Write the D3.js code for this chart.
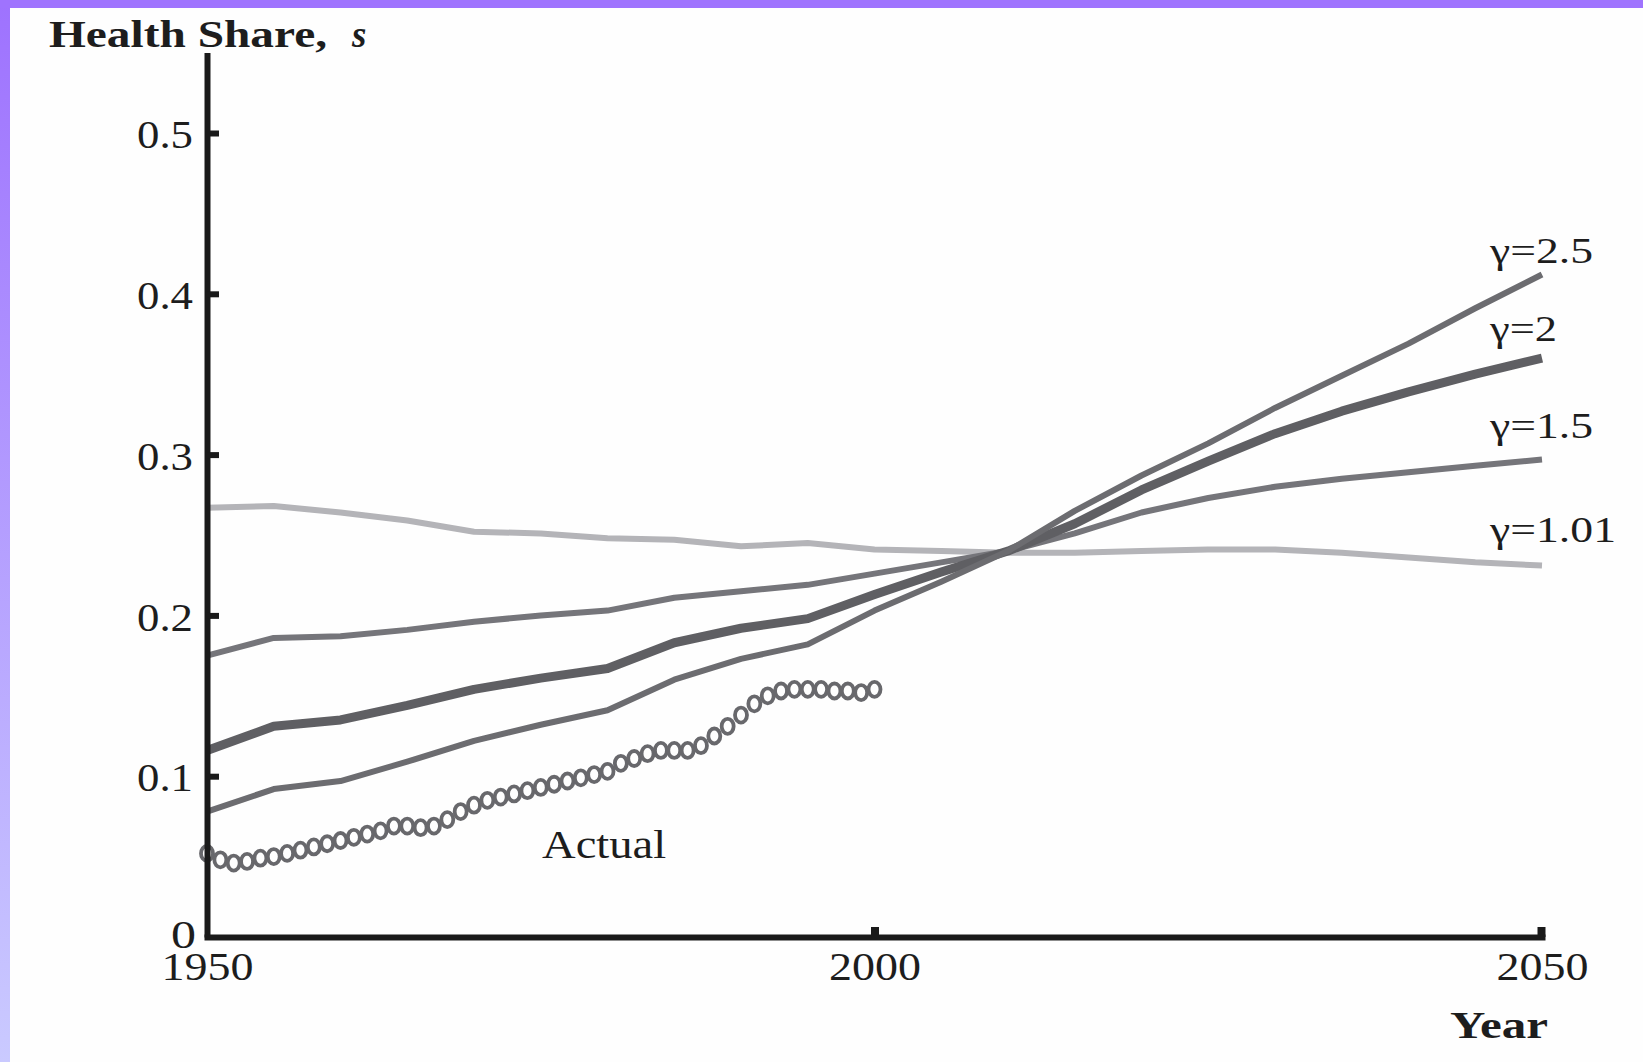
<!DOCTYPE html>
<html>
<head>
<meta charset="utf-8">
<script src="https://cdn.jsdelivr.net/npm/d3@7"></script>
<style>
  html, body { margin: 0; padding: 0; background: #ffffff; }
  svg { display: block; }
  text { font-family: "Liberation Serif", "Times New Roman", Times, serif; fill: #1d1d1d; }
</style>
</head>
<body>
<svg id="chart" width="1643" height="1062"></svg>
<script>
// Projection years (5-year steps) shared by all simulated paths
const projYears = [1950, 1955, 1960, 1965, 1970, 1975, 1980, 1985, 1990, 1995, 2000,
                   2005, 2010, 2015, 2020, 2025, 2030, 2035, 2040, 2045, 2050];

// Simulated health share for each curvature value gamma
const shareG101 = [0.267, 0.268, 0.264, 0.259, 0.252, 0.251, 0.248, 0.247, 0.243, 0.245, 0.241,
                   0.240, 0.239, 0.239, 0.240, 0.241, 0.241, 0.239, 0.236, 0.233, 0.231];
const shareG15  = [0.175, 0.186, 0.187, 0.191, 0.196, 0.200, 0.203, 0.211, 0.215, 0.219, 0.226,
                   0.233, 0.240, 0.251, 0.264, 0.273, 0.280, 0.285, 0.289, 0.293, 0.297];
const shareG2   = [0.116, 0.131, 0.135, 0.144, 0.154, 0.161, 0.167, 0.183, 0.192, 0.198, 0.213,
                   0.227, 0.240, 0.257, 0.278, 0.296, 0.313, 0.327, 0.339, 0.350, 0.360];
const shareG25  = [0.078, 0.092, 0.097, 0.109, 0.122, 0.132, 0.141, 0.160, 0.173, 0.182, 0.203,
                   0.221, 0.240, 0.265, 0.287, 0.307, 0.329, 0.349, 0.369, 0.391, 0.412];

// Observed health share, annual
const actualYears = d3.range(1950, 2001);
const actualShare = [0.052, 0.048, 0.046, 0.047, 0.049, 0.050, 0.052, 0.054, 0.056, 0.058,
                     0.060, 0.062, 0.064, 0.066, 0.069, 0.069, 0.068, 0.069, 0.073, 0.078,
                     0.082, 0.085, 0.087, 0.089, 0.091, 0.093, 0.095, 0.097, 0.099, 0.101,
                     0.103, 0.108, 0.111, 0.114, 0.116, 0.116, 0.116, 0.119, 0.125, 0.131,
                     0.138, 0.145, 0.150, 0.153, 0.154, 0.154, 0.154, 0.153, 0.153, 0.152,
                     0.154];

const seriesLabels = ["\u03b3=1.01", "\u03b3=1.5", "\u03b3=2", "\u03b3=2.5"];
const yTicks = [0, 0.1, 0.2, 0.3, 0.4, 0.5];
const yTickLabels = ["0", "0.1", "0.2", "0.3", "0.4", "0.5"];
const xTicks = [1950, 2000, 2050];
const xTickLabels = ["1950", "2000", "2050"];

const series = [
  { label: seriesLabels[0], values: shareG101, color: "#b4b4b8", width: 6,   labelDy: 24, labelLen: 126 },
  { label: seriesLabels[1], values: shareG15,  color: "#75757a", width: 6,   labelDy: 21, labelLen: 103 },
  { label: seriesLabels[2], values: shareG2,   color: "#5f5f63", width: 9,   labelDy: 17, labelLen: 67 },
  { label: seriesLabels[3], values: shareG25,  color: "#6c6c70", width: 6,   labelDy: 12, labelLen: 103 }
];

const svg = d3.select("#chart");
const W = 1643, H = 1062;

// Page frame: flat band on top, fading band down the left edge
const defs = svg.append("defs");
const grad = defs.append("linearGradient")
  .attr("id", "edgeFade").attr("x1", 0).attr("y1", 0).attr("x2", 0).attr("y2", 1);
grad.append("stop").attr("offset", "0%").attr("stop-color", "#9e72fe");
grad.append("stop").attr("offset", "100%").attr("stop-color", "#cacaff");
svg.append("rect").attr("x", 0).attr("y", 0).attr("width", W).attr("height", H).attr("fill", "#fefefe");
svg.append("rect").attr("x", 0).attr("y", 0).attr("width", 10).attr("height", H).attr("fill", "url(#edgeFade)");
svg.append("rect").attr("x", 0).attr("y", 0).attr("width", W).attr("height", 8).attr("fill", "#9f73fe");

// Scales
const x = d3.scaleLinear().domain([1950, 2050]).range([207, 1542]);
const y = d3.scaleLinear().domain([0, 0.55]).range([937, 937 - 0.55 * 1608]);

const plot = svg.append("g");

// Simulated paths
const line = d3.line()
  .x((d, i) => x(projYears[i]))
  .y(d => y(d))
  .curve(d3.curveLinear);

plot.selectAll("path.sim")
  .data(series)
  .join("path")
  .attr("class", "sim")
  .attr("d", d => line(d.values))
  .attr("fill", "none")
  .attr("stroke", d => d.color)
  .attr("stroke-width", d => d.width)
  .attr("stroke-linejoin", "round")
  .attr("stroke-linecap", "butt");

// Observed series as open rings
plot.selectAll("ellipse.obs")
  .data(actualShare)
  .join("ellipse")
  .attr("class", "obs")
  .attr("cx", (d, i) => x(actualYears[i]))
  .attr("cy", d => y(d))
  .attr("rx", 6)
  .attr("ry", 7.5)
  .attr("fill", "none")
  .attr("stroke", "#68686c")
  .attr("stroke-width", 3.8);

// Curve labels at the right end
plot.selectAll("text.curve")
  .data(series)
  .join("text")
  .attr("class", "curve")
  .attr("x", x(2050) - 52)
  .attr("y", d => y(d.values[d.values.length - 1]) - d.labelDy)
  .attr("font-size", 35)
  .attr("textLength", d => d.labelLen)
  .attr("lengthAdjust", "spacingAndGlyphs")
  .text(d => d.label);

plot.append("text")
  .attr("x", x(1975.1))
  .attr("y", y(0.05) + 1)
  .attr("font-size", 40)
  .attr("textLength", 124)
  .attr("lengthAdjust", "spacingAndGlyphs")
  .text("Actual");

// Axes
const axisColor = "#1a1a1a";

const yAxis = d3.axisLeft(y)
  .tickValues(yTicks)
  .tickFormat((d, i) => yTickLabels[i])
  .tickSizeInner(-12)
  .tickSizeOuter(0)
  .tickPadding(14);

const gy = svg.append("g").attr("transform", `translate(${x(1950)},0)`).call(yAxis);
gy.select(".domain").attr("stroke", axisColor).attr("stroke-width", 6);
gy.selectAll(".tick line").attr("stroke", axisColor).attr("stroke-width", 6)
  .filter(d => d === 0).remove();
gy.selectAll(".tick text")
  .attr("font-size", 41)
  .attr("fill", "#1d1d1d")
  .attr("font-family", null)
  .attr("dy", "0.36em")
  .attr("x", -14)
  .attr("textLength", d => d === 0 ? 25 : 56)
  .attr("lengthAdjust", "spacingAndGlyphs");
gy.selectAll(".tick").filter(d => d === 0).select("text")
  .attr("x", -11).attr("dy", "0.27em").attr("font-size", 39);

const xAxis = d3.axisBottom(x)
  .tickValues(xTicks)
  .tickFormat((d, i) => xTickLabels[i])
  .tickSizeInner(-10)
  .tickSizeOuter(0)
  .tickPadding(0);

const gx = svg.append("g").attr("transform", `translate(0,${y(0)})`).call(xAxis);
gx.select(".domain").attr("stroke", axisColor).attr("stroke-width", 6).attr("stroke-linecap", "square");
gx.selectAll(".tick line").attr("stroke", axisColor).attr("stroke-width", 8)
  .filter(d => d === 1950).remove();
gx.selectAll(".tick").filter(d => d === 2050).select("line").attr("transform", "translate(-1,0)");
gx.selectAll(".tick text")
  .attr("font-size", 41)
  .attr("fill", "#1d1d1d")
  .attr("font-family", null)
  .attr("y", 43)
  .attr("dy", 0)
  .attr("textLength", 92)
  .attr("lengthAdjust", "spacingAndGlyphs");

// Axis titles
svg.append("text")
  .attr("x", 49).attr("y", 47)
  .attr("font-size", 37).attr("font-weight", "bold")
  .attr("textLength", 278).attr("lengthAdjust", "spacingAndGlyphs")
  .text("Health Share,");
svg.append("text")
  .attr("x", 352).attr("y", 47)
  .attr("font-size", 37).attr("font-weight", "bold").attr("font-style", "italic")
  .text("s");

svg.append("text")
  .attr("x", 1450).attr("y", 1038)
  .attr("font-size", 38).attr("font-weight", "bold")
  .attr("textLength", 98).attr("lengthAdjust", "spacingAndGlyphs")
  .text("Year");
</script>
</body>
</html>
